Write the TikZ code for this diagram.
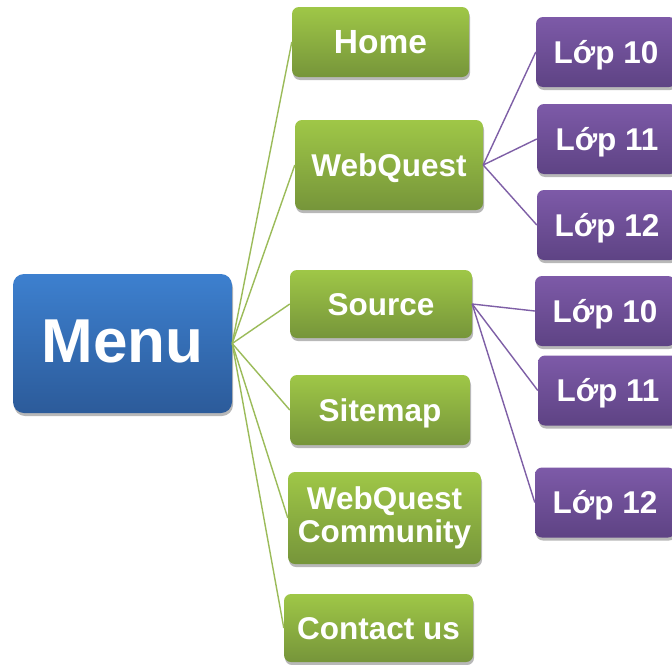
\documentclass[tikz,border=0pt]{standalone}
\usepackage{fontspec}
\setmainfont{Liberation Sans}
\usetikzlibrary{shadows}
\definecolor{grnTop}{HTML}{9FC747}
\definecolor{grnBot}{HTML}{76953A}
\definecolor{purTop}{HTML}{7D5AA8}
\definecolor{purBot}{HTML}{5E4384}
\definecolor{bluTop}{HTML}{3D80CF}
\definecolor{bluBot}{HTML}{2C5B9A}
\definecolor{grnLine}{HTML}{9BBB59}
\definecolor{purLine}{HTML}{7E5FA6}
\begin{document}
\begin{tikzpicture}[x=1pt,y=-1pt,
  box/.style={rectangle, rounded corners=7pt, text=white, align=center, inner sep=0pt,
    font=\bfseries\fontsize{31.5}{33}\selectfont,
    drop shadow={shadow xshift=1pt, shadow yshift=-3pt, opacity=0.28, fill=black}},
  capfit/.style={text height=22.6pt, text depth=0pt},
  greenbox/.style={box, top color=grnTop, bottom color=grnBot},
  purplebox/.style={box, capfit, top color=purTop, bottom color=purBot,
    minimum width=140pt, minimum height=70pt},
  bluebox/.style={box, rounded corners=11pt, top color=bluTop, bottom color=bluBot,
    font=\bfseries\fontsize{62}{62}\selectfont, text height=44.4pt, text depth=7pt},
  greenedge/.style={draw=grnLine, line width=1.4pt},
  purpleedge/.style={draw=purLine, line width=1.4pt}]
\useasboundingbox (0,0) rectangle (672,664);
\fill[white] (0,0) rectangle (672,664);

% root
\node[bluebox, minimum width=219pt, minimum height=139pt] (menu) at (122.5,343.5) {Menu};

% first level
\node[greenbox, capfit, minimum width=177pt, minimum height=70pt, font=\bfseries\fontsize{33.5}{33}\selectfont] (home) at (380.5,42) {Home};
\node[greenbox, capfit, minimum width=188pt, minimum height=90pt] (webquest) at (389,165) {WebQuest};
\node[greenbox, capfit, minimum width=182pt, minimum height=68pt] (source) at (381,304) {Source};
\node[greenbox, capfit, minimum width=180pt, minimum height=70pt] (sitemap) at (380,410) {Sitemap};
\node[greenbox, minimum width=193pt, minimum height=92pt] (community) at (384.5,518) {WebQuest\\Community};
\node[greenbox, capfit, minimum width=189pt, minimum height=68pt] (contact) at (378.5,628) {Contact us};

% second level under WebQuest
\node[purplebox] (wq10) at (606,52) {Lớp 10};
\node[purplebox] (wq11) at (607,139) {Lớp 11};
\node[purplebox] (wq12) at (607,225) {Lớp 12};

% second level under Source
\node[purplebox] (src10) at (605,311) {Lớp 10};
\node[purplebox] (src11) at (608,390.5) {Lớp 11};
\node[purplebox] (src12) at (605,502.5) {Lớp 12};

% connectors
\foreach \t in {home,webquest,source,sitemap,community,contact}
  \draw[greenedge] (menu.east) -- (\t.west);
\foreach \t in {wq10,wq11,wq12}
  \draw[purpleedge] (webquest.east) -- (\t.west);
\foreach \t in {src10,src11,src12}
  \draw[purpleedge] (source.east) -- (\t.west);
\end{tikzpicture}
\end{document}
